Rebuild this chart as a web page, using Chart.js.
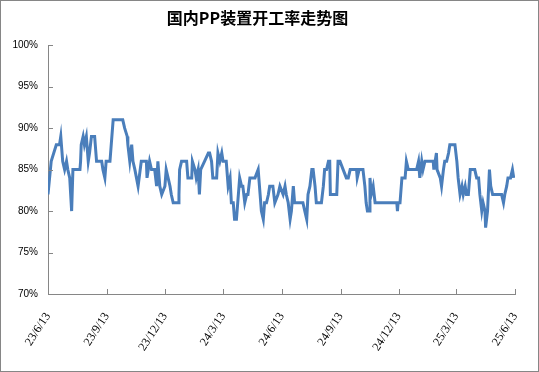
<!DOCTYPE html>
<html>
<head>
<meta charset="utf-8">
<script src="https://cdn.jsdelivr.net/npm/chart.js@4.4.1/dist/chart.umd.min.js"></script>
<style>
  html, body { margin: 0; padding: 0; background: #fff; }
  #wrap { width: 539px; height: 372px; }
</style>
</head>
<body>
<div id="wrap"><canvas id="rate-chart" width="539" height="372"></canvas></div>
<script>
// days since 2023-06-13
const day = [0, 5, 13, 18, 20, 23, 26, 29, 31, 34, 37, 39, 50, 51, 52, 55, 57, 60, 63, 65, 68, 73, 76, 84, 86, 89, 91, 97, 99, 102,
  117, 120, 124, 125, 128, 131, 133, 136, 141, 146, 154, 155, 159, 162, 167, 170, 172, 175, 178, 183, 185, 188, 191, 193, 196, 204, 205, 206, 209, 217,
  219, 225, 226, 230, 232, 235, 237, 239, 245, 251, 253, 256, 258, 264, 266, 269, 272, 274, 279, 282, 285, 287, 290, 292, 295, 298, 300, 303, 305, 308,
  311, 313, 316, 324, 329, 332, 334, 337, 339, 342, 345, 347, 352, 355, 360, 363, 368, 371, 373, 376, 379, 381, 384, 386, 399, 402, 405, 407, 410, 413,
  415, 418, 420, 428, 431, 433, 436, 439, 441, 442, 452, 454, 457, 462, 467, 470, 473, 483, 484, 487, 493, 496, 498, 500, 503, 504, 506, 509, 512, 546,
  547, 548, 551, 554, 559, 561, 564, 577, 580, 582, 585, 587, 590, 603, 604, 606, 608, 609, 614, 616, 619, 621, 624, 627, 629, 637, 640, 642, 645, 648,
  650, 653, 655, 658, 661, 668, 671, 674, 676, 679, 681, 684, 685, 688, 691, 693, 696, 710, 713, 715, 718, 720, 724, 727, 729];
const rate = [82, 86, 88, 88, 89, 86, 85, 86, 85, 84, 80, 85, 85, 86, 88, 89, 88, 89, 86, 87, 89, 89, 86, 86, 85, 84, 86, 86, 88, 91,
  91, 90, 89, 88, 86, 88, 86, 85, 83, 86, 86, 84, 86, 85, 85, 83, 86, 83, 82, 83, 85, 84, 83, 82, 81, 81, 82, 85, 86, 86,
  84, 84, 86, 85, 84, 85, 82, 85, 86, 87, 87, 86, 84, 84, 87, 86, 87, 86, 86, 83, 84, 81, 81, 79, 79, 82, 84, 83, 83, 81,
  82, 82, 84, 84, 85, 82, 80, 79, 81, 81, 82, 83, 83, 81, 82, 83, 82, 83, 82, 81, 79, 80, 83, 81, 81, 80, 79, 82, 83, 85,
  85, 83, 81, 81, 83, 85, 85, 86, 86, 82, 82, 86, 86, 85, 84, 84, 85, 85, 84, 85, 85, 83, 81, 80, 80, 84, 82, 83, 81, 81,
  80, 81, 81, 84, 84, 86, 85, 85, 86, 84, 86, 85, 86, 86, 85, 86, 87, 85, 84, 83, 85, 86, 86, 87, 88, 88, 86, 84, 82, 83,
  82, 83, 82, 82, 85, 85, 84, 84, 82, 80, 81, 80, 78, 80, 85, 83, 82, 82, 81, 82, 83, 84, 84, 85, 84];

const tickDays = [0, 92, 183, 274, 366, 458, 549, 639, 731];
const tickLabels = ['23/6/13', '23/9/13', '23/12/13', '24/3/13', '24/6/13', '24/9/13', '24/12/13', '25/3/13', '25/6/13'];
const yTicks = [70, 75, 80, 85, 90, 95, 100];

const axisGray = '#868686';

// white background and the outer frame
const framePlugin = {
  id: 'frame',
  beforeDraw(chart) {
    const c = chart.ctx;
    c.save();
    c.fillStyle = '#fff';
    c.fillRect(0, 0, chart.width, chart.height);
    c.strokeStyle = axisGray;
    c.lineWidth = 1;
    c.strokeRect(0.5, 0.5, chart.width - 1, chart.height - 1);
    c.restore();
  }
};

// small tick marks pointing into the plot
const innerTicks = {
  id: 'innerTicks',
  afterDraw(chart) {
    const c = chart.ctx, xs = chart.scales.x, ys = chart.scales.y;
    c.save();
    c.strokeStyle = axisGray;
    c.lineWidth = 1;
    c.beginPath();
    yTicks.forEach(v => {
      const py = Math.round(ys.getPixelForValue(v)) + 0.5;
      c.moveTo(xs.left, py);
      c.lineTo(xs.left + 5, py);
    });
    tickDays.forEach(v => {
      const px = Math.round(xs.getPixelForValue(v)) + 0.5;
      c.moveTo(px, ys.bottom);
      c.lineTo(px, ys.bottom - 5);
    });
    c.stroke();
    c.restore();
  }
};

const ctx = document.getElementById('rate-chart');
new Chart(ctx, {
  type: 'line',
  data: {
    datasets: [{
      data: day.map((d, i) => ({ x: d, y: rate[i] })),
      borderColor: '#4a7ebb',
      borderWidth: 3,
      pointRadius: 0,
      tension: 0,
      fill: false
    }]
  },
  options: {
    responsive: false,
    animation: false,
    layout: { padding: { left: 0, right: 24, top: 0, bottom: 0 } },
    plugins: {
      legend: { display: false },
      tooltip: { enabled: false },
      title: {
        display: true,
        text: '国内PP装置开工率走势图',
        color: '#000',
        font: { family: '"Noto Sans CJK SC"', size: 16, weight: 'bold' },
        padding: { top: 8, bottom: 18 }
      }
    },
    scales: {
      x: {
        type: 'linear',
        min: 0,
        max: 731,
        afterBuildTicks(scale) {
          scale.ticks = tickDays.map(v => ({ value: v }));
        },
        afterFit(scale) {
          scale.height = 78;
          scale.paddingLeft = 0;
          scale.paddingRight = 0;
        },
        grid: { display: false, drawTicks: false },
        border: { color: axisGray, width: 1 },
        ticks: {
          autoSkip: false,
          minRotation: 57,
          maxRotation: 57,
          padding: 16,
          color: '#000',
          font: { family: '"Liberation Serif"', size: 12 },
          callback(v) {
            const i = tickDays.indexOf(v);
            return i >= 0 ? tickLabels[i] : '';
          }
        }
      },
      y: {
        min: 70,
        max: 100,
        afterFit(scale) { scale.width = 48; },
        grid: { display: false, drawTicks: false },
        border: { color: axisGray, width: 1 },
        ticks: {
          stepSize: 5,
          padding: 10,
          color: '#000',
          font: { family: '"Liberation Sans"', size: 10 },
          callback: v => v + '%'
        }
      }
    }
  },
  plugins: [framePlugin, innerTicks]
});
</script>
</body>
</html>
